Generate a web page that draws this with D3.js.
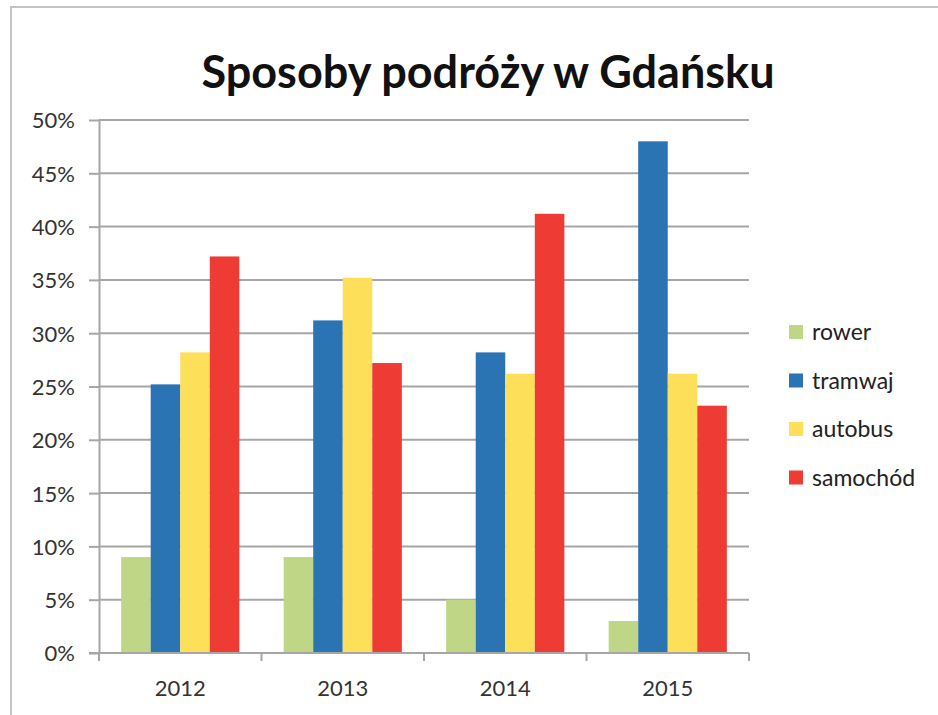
<!doctype html>
<html lang="pl">
  <head>
    <meta charset="UTF-8" />
    <title>Sposoby podróży w Gdańsku</title>
    <script src="https://unpkg.com/d3@7.9.0/dist/d3.min.js"></script>
    <style>
      body {
        margin: 0;
        background: #fff;
        font-family: Lato, 'Open Sans', sans-serif;
      }
      .title {
        font-size: 45px;
        font-weight: bold;
        text-anchor: middle;
        fill: #111;
      }
      .axis text {
        font-size: 22px;
        fill: #333;
        font-family: Lato, sans-serif;
      }
      .axis path,
      .axis line {
        stroke: #a6a6a6;
        stroke-width: 2px;
      }
      .grid line {
        stroke: #a6a6a6;
        stroke-width: 2px;
      }
      .legend text {
        font-size: 23px;
        fill: #222;
      }
    </style>
  </head>
  <body>
    <svg width="938" height="715"></svg>

    <script>
      // dane
      const years = ['2012', '2013', '2014', '2015'];
      const series = ['rower', 'tramwaj', 'autobus', 'samochód'];
      const rower = [0.09, 0.09, 0.05, 0.03];
      const tramwaj = [0.252, 0.312, 0.282, 0.48];
      const autobus = [0.282, 0.352, 0.262, 0.262];
      const samochod = [0.372, 0.272, 0.412, 0.232];
      const yTicks = [0, 0.05, 0.1, 0.15, 0.2, 0.25, 0.3, 0.35, 0.4, 0.45, 0.5];
      const colors = ['#bfd686', '#2b74b3', '#fddf5a', '#ee3b33'];

      const values = [rower, tramwaj, autobus, samochod];
      const data = years.map((y, i) => ({
        year: y,
        vals: series.map((s, j) => ({ key: s, value: values[j][i] })),
      }));

      const svg = d3.select('svg');

      // ramka
      svg.append('path')
        .attr('d', 'M11,716 L11,7 L940,7')
        .attr('fill', 'none')
        .attr('stroke', '#c4c4c4')
        .attr('stroke-width', 2);

      const x0 = d3.scaleBand().domain(years).range([99, 749]).padding(0);
      const x1 = d3.scaleBand().domain(series).range([0, x0.bandwidth()])
        .paddingInner(0).paddingOuter(0.75);
      const y = d3.scaleLinear().domain([0, 0.5]).range([653, 120]);
      const color = d3.scaleOrdinal().domain(series).range(colors);

      // tytuł
      svg.append('text')
        .attr('class', 'title')
        .attr('x', 488)
        .attr('y', 88)
        .text('Sposoby podróży w Gdańsku');

      // siatka
      svg.append('g')
        .attr('class', 'grid')
        .selectAll('line')
        .data(yTicks.slice(1))
        .join('line')
        .attr('x1', 99)
        .attr('x2', 749)
        .attr('y1', (d) => y(d))
        .attr('y2', (d) => y(d));

      // słupki
      svg.append('g')
        .selectAll('g')
        .data(data)
        .join('g')
        .attr('transform', (d) => `translate(${x0(d.year)},0)`)
        .selectAll('rect')
        .data((d) => d.vals)
        .join('rect')
        .attr('x', (d) => x1(d.key))
        .attr('width', x1.bandwidth())
        .attr('y', (d) => y(d.value))
        .attr('height', (d) => y(0) - y(d.value))
        .attr('fill', (d) => color(d.key));

      // oś Y
      svg.append('g')
        .attr('class', 'axis')
        .attr('transform', 'translate(99,0)')
        .call(
          d3.axisLeft(y).tickValues(yTicks).tickFormat(d3.format('.0%'))
            .tickSize(10).tickSizeOuter(0).tickPadding(14),
        )
        .call((g) => g.selectAll('text').attr('dy', '0.36em'));

      // oś X
      const xAxis = svg.append('g')
        .attr('class', 'axis')
        .attr('transform', 'translate(0,653)');
      xAxis.append('line')
        .attr('x1', 89).attr('x2', 749);
      xAxis.selectAll('.tk')
        .data(d3.range(years.length + 1))
        .join('line')
        .attr('class', 'tk')
        .attr('x1', (i) => 99 + i * x0.step())
        .attr('x2', (i) => 99 + i * x0.step())
        .attr('y1', 0)
        .attr('y2', 8);
      xAxis.selectAll('text')
        .data(years)
        .join('text')
        .attr('x', (d) => x0(d) + x0.bandwidth() / 2)
        .attr('y', 43)
        .attr('text-anchor', 'middle')
        .text((d) => d);

      // legenda
      const legend = svg.append('g')
        .attr('class', 'legend')
        .attr('transform', 'translate(789,332)');
      series.forEach((s, i) => {
        const row = legend.append('g')
          .attr('transform', `translate(0,${i * 48.5})`);
        row.append('rect')
          .attr('x', 0)
          .attr('y', -7)
          .attr('width', 14)
          .attr('height', 14)
          .attr('fill', color(s));
        row.append('text')
          .attr('x', 23)
          .attr('y', 8)
          .text(s);
      });
    </script>
  </body>
</html>
